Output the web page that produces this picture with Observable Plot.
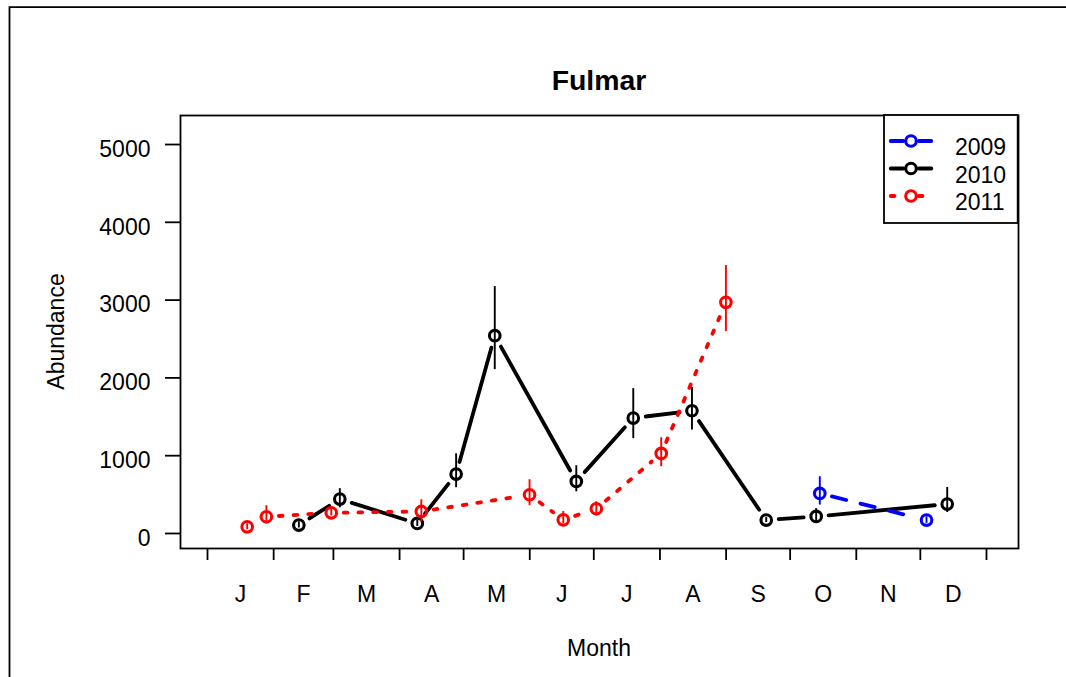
<!DOCTYPE html>
<html><head><meta charset="utf-8">
<script src="https://cdn.jsdelivr.net/npm/d3@7"></script>
<script src="https://cdn.jsdelivr.net/npm/@observablehq/plot@0.6"></script>
<style>
body{margin:0;background:#fff;font-family:"Liberation Sans",Arial,sans-serif;}
#wrap{position:relative;width:1066px;height:677px;overflow:hidden;background:#fff;}
#overlay{position:absolute;left:0;top:0;pointer-events:none;}
</style></head><body><div id="wrap"></div>
<script>
// ---- data ----
const monthLabels = ["J","F","M","A","M","J","J","A","S","O","N","D"];
const monthStarts = [0,31,59,90,120,151,181,212,243,273,304,334,365];
const monthMids = [15.5,45,74.5,105,135.5,166,196.5,227.5,258,288.5,319,349.5];
const yTicks = [0,1000,2000,3000,4000,5000];
const years = ["2009","2010","2011"];
const colors = ["#0000FF","#000000","#FF0000"];

const day2009 = [286.9, 336.9];
const val2009 = [515, 172];
const lo2009  = [365, 130];
const hi2009  = [729, 215];

const day2010 = [42.8, 62.0, 98.3, 116.5, 134.6, 172.8, 199.5, 227.0, 261.8, 285.2, 346.6];
const val2010 = [108, 442, 129, 764, 2543, 669, 1484, 1578, 172, 219, 378];
const lo2010  = [70, 330, 90, 588, 2106, 536, 1219, 1330, 140, 150, 270];
const hi2010  = [150, 576, 170, 1025, 3174, 871, 1862, 1878, 205, 320, 592];

const day2011 = [18.6, 27.6, 58.0, 100.2, 150.9, 166.7, 182.2, 212.6, 242.9];
const val2011 = [86, 215, 266, 283, 498, 176, 318, 1029, 2971];
const lo2011  = [50, 125, 225, 150, 357, 125, 228, 858, 2595];
const hi2011  = [125, 357, 310, 433, 691, 283, 408, 1231, 3444];

// ---- build tables ----
function rows(days, vals, lo, hi, year) {
  return days.map((d, i) => ({day: d, value: vals[i], lo: lo[i], hi: hi[i], year}));
}
function segs(r) {
  return r.slice(1).map((p, i) => ({x1: r[i].day, y1: r[i].value, x2: p.day, y2: p.value, year: p.year}));
}
const r2009 = rows(day2009, val2009, lo2009, hi2009, "2009");
const r2010 = rows(day2010, val2010, lo2010, hi2010, "2010");
const r2011 = rows(day2011, val2011, lo2011, hi2011, "2011");

const lineW = 3.8, dotR = 5.3, dotW = 3.1, errW = 1.9, inset = 12.5;
const dash = {"2009": "14.7,14.7", "2010": null, "2011": "3.7,11"};

function seriesMarks(r, color, year) {
  return [
    Plot.arrow(segs(r), {x1: "x1", y1: "y1", x2: "x2", y2: "y2", stroke: color, strokeWidth: lineW,
      headLength: 0, inset, strokeLinecap: "round", strokeDasharray: dash[year]}),
    Plot.ruleX(r, {x: "day", y1: "lo", y2: "hi", stroke: color, strokeWidth: errW}),
    Plot.dot(r, {x: "day", y: "value", r: dotR, stroke: color, strokeWidth: dotW, fill: "none"})
  ];
}

const chart = Plot.plot({
  width: 1066, height: 677,
  marginLeft: 180, marginRight: 48, marginTop: 115, marginBottom: 129,
  style: {fontFamily: "Liberation Sans, Arial, sans-serif", fontSize: "23px", color: "black", background: "white"},
  x: {type: "linear", domain: [-12.65, 380]},
  y: {type: "linear", domain: [-193, 5373]},
  marks: [
    Plot.axisX(monthStarts, {tickSize: 12, tickFormat: () => "", label: null, strokeWidth: 1.8}),
    Plot.axisX(monthMids, {tickSize: 0, tickPadding: 37.4, tickFormat: d => monthLabels[monthMids.indexOf(d)], label: null, fontSize: 23}),
    Plot.axisY(yTicks, {tickSize: 15, tickFormat: () => "", label: null, strokeWidth: 1.8}),
    Plot.axisY(yTicks, {tickSize: 0, tickPadding: 30, dy: 5, tickFormat: d => String(d), label: null, fontSize: 23}),
    ...seriesMarks(r2010, colors[1], "2010"),
    ...seriesMarks(r2009, colors[0], "2009"),
    ...seriesMarks(r2011, colors[2], "2011"),
    Plot.frame({stroke: "black", strokeWidth: 1.8})
  ]
});
const wrap = document.getElementById("wrap");
wrap.appendChild(chart);

// ---- overlay: border, title, axis titles, legend ----
const ov = d3.select(wrap).append("svg").attr("id", "overlay").attr("width", 1066).attr("height", 677)
  .style("font-family", "Liberation Sans, Arial, sans-serif");
ov.append("path").attr("d", "M9.5,677 V7.2 H1066").attr("fill", "none").attr("stroke", "black").attr("stroke-width", 1.8);
ov.append("text").attr("x", 599).attr("y", 90).attr("text-anchor", "middle")
  .attr("font-weight", "bold").attr("font-size", 28.4).text("Fulmar");
ov.append("text").attr("x", 599).attr("y", 656).attr("text-anchor", "middle").attr("font-size", 23).text("Month");
ov.append("text").attr("transform", "translate(63.5,331.5) rotate(-90)").attr("text-anchor", "middle")
  .attr("font-size", 23).text("Abundance");

const lg = ov.append("g");
lg.append("rect").attr("x", 884).attr("y", 115).attr("width", 133.7).attr("height", 108)
  .attr("fill", "white").attr("stroke", "black").attr("stroke-width", 1.8);
const legY = [141, 168.5, 196];
years.forEach((yr, i) => {
  const y = legY[i];
  [[889, 905], [917, 933]].forEach(([a, b]) => {
    lg.append("line").attr("x1", a + 1.75).attr("x2", b - 1.75).attr("y1", y).attr("y2", y)
      .attr("stroke", colors[i]).attr("stroke-width", lineW).attr("stroke-linecap", "round")
      .attr("stroke-dasharray", dash[yr]);
  });
  lg.append("circle").attr("cx", 911).attr("cy", y).attr("r", dotR).attr("fill", "none")
    .attr("stroke", colors[i]).attr("stroke-width", dotW);
  lg.append("text").attr("x", 955).attr("y", y + 14).attr("font-size", 23).text(yr);
});
</script></body></html>
